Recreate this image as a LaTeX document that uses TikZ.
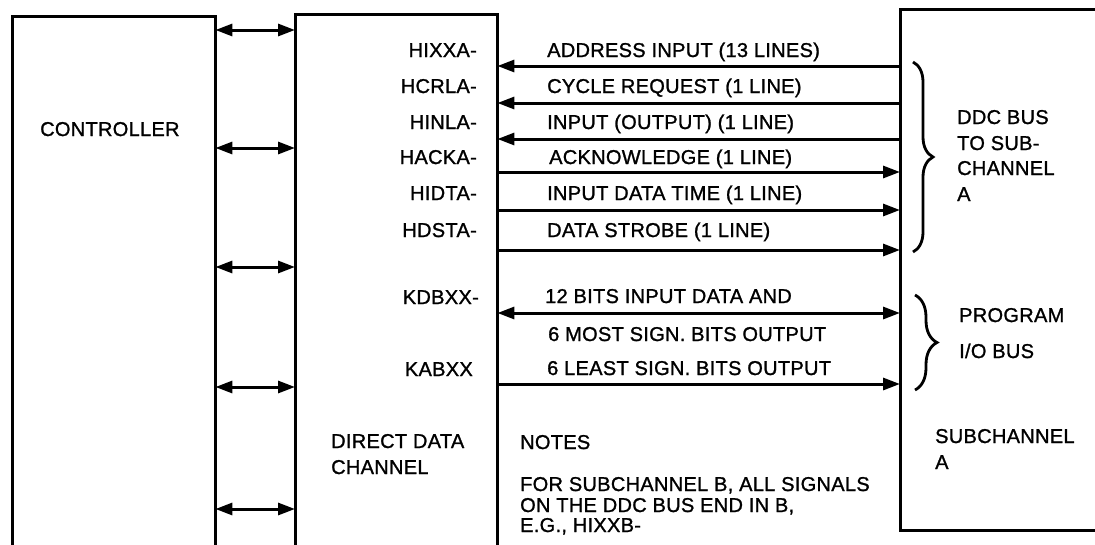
\documentclass[tikz,border=0pt]{standalone}
\usepackage{fontspec}
\setmainfont{Liberation Sans}[LetterSpace=1.5, FakeBold=1.2]
\usetikzlibrary{arrows.meta,decorations.pathreplacing}
\begin{document}
\begin{tikzpicture}[x=1pt,y=-1pt,
  >={Triangle[length=17pt,width=12pt]},
  lbl/.style={inner sep=0pt, text height=14pt, text depth=0pt, font=\fontsize{20pt}{25pt}\selectfont},
  boxline/.style={line width=3pt, line join=miter},
  sig/.style={line width=3pt},
  hole/.style={draw=none, inner sep=0pt, anchor=north west},
  brc/.style={line width=2.8pt, decorate, decoration={brace, amplitude=#1}}
]
\useasboundingbox (0,0) rectangle (1095,544);

% boxes (open outlines)
\node[hole, minimum width=203pt, minimum height=532pt] (ctrl) at (12,16) {};
\node[hole, minimum width=202pt, minimum height=534pt] (ddc) at (295,14) {};
\node[hole, minimum width=197pt, minimum height=521pt] (sub) at (900,9) {};
\draw[boxline] (ctrl.south west) -- (ctrl.north west) -- (ctrl.north east) -- (ctrl.south east);
\draw[boxline] (ddc.south west) -- (ddc.north west) -- (ddc.north east) -- (ddc.south east);
\draw[boxline] (sub.north east) -- (sub.north west) -- (sub.south west) -- (sub.south east);

% controller
\node[lbl, anchor=west] (tctrl) at (40,129) {CONTROLLER};

% controller <-> DDC
\foreach \y in {30,148,267,387,509}
  \draw[sig, <->] (ctrl.east |- 0,\y) -- (ddc.west |- 0,\y);

% DDC signal names
\node[lbl, anchor=east] (n1) at (477,50)  {HIXXA-};
\node[lbl, anchor=east] (n2) at (477,86)  {HCRLA-};
\node[lbl, anchor=east] (n3) at (477,122) {HINLA-};
\node[lbl, anchor=east] (n4) at (477,157) {HACKA-};
\node[lbl, anchor=east] (n5) at (477,193) {HIDTA-};
\node[lbl, anchor=east] (n6) at (477,230) {HDSTA-};
\node[lbl, anchor=east] (n7) at (479,297) {KDBXX-};
\node[lbl, anchor=east] (n8) at (473,369) {KABXX};
\node[lbl, anchor=west] (dd1) at (331,441) {DIRECT DATA};
\node[lbl, anchor=west] (dd2) at (331,467) {CHANNEL};

% bus line labels
\node[lbl, anchor=west] (s1) at (547,50)  {ADDRESS INPUT (13 LINES)};
\node[lbl, anchor=west] (s2) at (547,86)  {CYCLE REQUEST (1 LINE)};
\node[lbl, anchor=west] (s3) at (547,122) {INPUT (OUTPUT) (1 LINE)};
\node[lbl, anchor=west] (s4) at (549,157) {ACKNOWLEDGE (1 LINE)};
\node[lbl, anchor=west] (s5) at (547,193) {INPUT DATA TIME (1 LINE)};
\node[lbl, anchor=west] (s6) at (547,230) {DATA STROBE (1 LINE)};
\node[lbl, anchor=west] (p1) at (545,296) {12 BITS INPUT DATA AND};
\node[lbl, anchor=west] (p2) at (548,334) {6 MOST SIGN. BITS OUTPUT};
\node[lbl, anchor=west] (p3) at (547,368) {6 LEAST SIGN. BITS OUTPUT};

% bus lines
\draw[sig, <-] (ddc.east |- 0,66)  -- (sub.west |- 0,66);
\draw[sig, <-] (ddc.east |- 0,103) -- (sub.west |- 0,103);
\draw[sig, <-] (ddc.east |- 0,139) -- (sub.west |- 0,139);
\draw[sig, ->] (ddc.east |- 0,172) -- (sub.west |- 0,172);
\draw[sig, ->] (ddc.east |- 0,210) -- (sub.west |- 0,210);
\draw[sig, ->] (ddc.east |- 0,250) -- (sub.west |- 0,250);
\draw[sig, <->] (ddc.east |- 0,313) -- (sub.west |- 0,313);
\draw[sig, ->] (ddc.east |- 0,384) -- (sub.west |- 0,384);

% notes
\node[lbl, anchor=west] (nt0) at (520,442) {NOTES};
\node[lbl, anchor=west] (nt1) at (520,484) {FOR SUBCHANNEL B, ALL SIGNALS};
\node[lbl, anchor=west] (nt2) at (520,505) {ON THE DDC BUS END IN B,};
\node[lbl, anchor=west] (nt3) at (520,525) {E.G., HIXXB-};

% braces
\draw[brc=20pt] (913,62) -- (913,252);
\draw[brc=22pt] (915,295) -- (915,390);

% subchannel texts
\node[lbl, anchor=west] (b1) at (957,117) {DDC BUS};
\node[lbl, anchor=west] (b2) at (957,143) {TO SUB-};
\node[lbl, anchor=west] (b3) at (957,168) {CHANNEL};
\node[lbl, anchor=west] (b4) at (957,194) {A};
\node[lbl, anchor=west] (pg1) at (959,315) {PROGRAM};
\node[lbl, anchor=west] (pg2) at (959,351) {I/O BUS};
\node[lbl, anchor=west] (sc1) at (935,436) {SUBCHANNEL};
\node[lbl, anchor=west] (sc2) at (935,462) {A};
\end{tikzpicture}
\end{document}
